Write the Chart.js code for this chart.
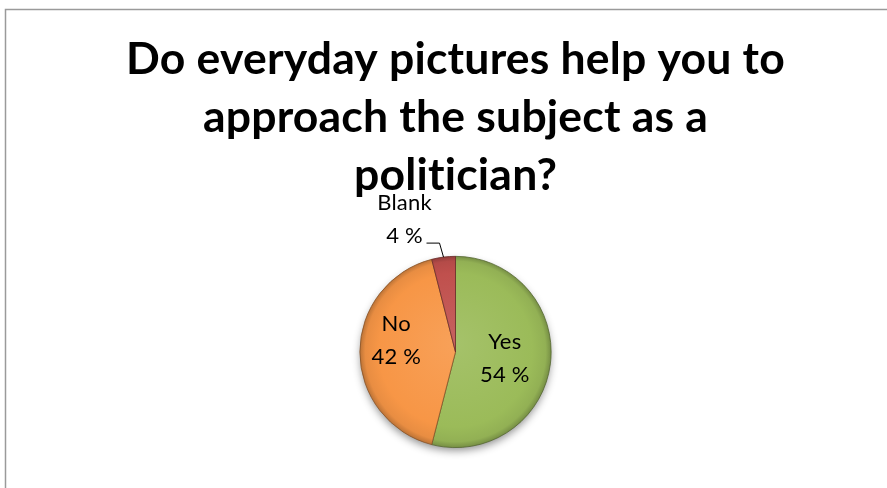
<!DOCTYPE html>
<html>
<head>
<meta charset="utf-8">
<script src="https://cdn.jsdelivr.net/npm/chart.js@4/dist/chart.umd.min.js"></script>
<style>
    html, body { margin: 0; padding: 0; background: #ffffff; }
    #wrap { position: relative; width: 887px; height: 488px; }
</style>
</head>
<body>
<div id="wrap"><canvas id="pieChart" width="887" height="488"></canvas></div>
<script>
const titleLines = ["Do everyday pictures help you to", "approach the subject as a", "politician?"];
const categories = ["Yes", "No", "Blank"];
const shares = [54, 42, 4];
const sliceColors = ["#9BBB59", "#F79646", "#C0504D"];
// where each data label sits: inside the slice, or outside with a leader line
const labelPlacement = ["inside", "inside", "outside"];
const labelRadius = [0.52, 0.62, 0];
const labelShiftY = [0, -12, -3];

const labelFont = "Lato, 'Open Sans', sans-serif";

const shade = (hex, amt) => {
    const n = parseInt(hex.slice(1), 16);
    const mix = (c) => Math.round(amt >= 0 ? c + (255 - c) * amt : c * (1 + amt));
    const r = mix((n >> 16) & 255), g = mix((n >> 8) & 255), b = mix(n & 255);
    return `rgb(${r}, ${g}, ${b})`;
};

// soft bevel look: lighter body, darker rim
const sliceFill = (ctx) => {
    const chart = ctx.chart;
    const area = chart.chartArea;
    const base = sliceColors[ctx.dataIndex];
    if (!area) return base;
    const cx = (area.left + area.right) / 2;
    const cy = (area.top + area.bottom) / 2;
    const r = Math.min(area.right - area.left, area.bottom - area.top) / 2;
    const g = chart.ctx.createRadialGradient(cx, cy - r * 0.1, 0, cx, cy, r);
    g.addColorStop(0, shade(base, 0.1));
    g.addColorStop(0.8, base);
    g.addColorStop(0.94, shade(base, -0.06));
    g.addColorStop(1, shade(base, -0.25));
    return g;
};

// outer frame; the small letter spacing also stops Lato's "ti" ligature
const frame = {
    id: "frame",
    beforeDraw(chart) {
        const c = chart.ctx;
        c.letterSpacing = "0.2px";
        c.save();
        c.strokeStyle = "#9a9a9a";
        c.lineWidth = 1.5;
        c.strokeRect(5.5, 9.5, 1000, 1000);
        c.restore();
    },
};

const pieShadow = {
    id: "pieShadow",
    beforeDatasetsDraw(chart) {
        const arc = chart.getDatasetMeta(0).data[0];
        if (!arc) return;
        const { x, y, outerRadius } = arc.getProps(["x", "y", "outerRadius"], true);
        const c = chart.ctx;
        c.save();
        c.shadowColor = "rgba(0, 0, 0, 0.45)";
        c.shadowBlur = 9;
        c.shadowOffsetY = 4;
        c.fillStyle = "#ffffff";
        c.beginPath();
        c.arc(x, y, outerRadius - 1, 0, Math.PI * 2);
        c.fill();
        c.restore();
    },
};

const sliceLabels = {
    id: "sliceLabels",
    afterDatasetsDraw(chart) {
        const c = chart.ctx;
        const meta = chart.getDatasetMeta(0);
        c.save();
        c.font = `22px ${labelFont}`;
        c.fillStyle = "#000000";
        c.textAlign = "center";
        c.textBaseline = "middle";
        meta.data.forEach((arc, i) => {
            const { x, y, startAngle, endAngle, outerRadius } =
                arc.getProps(["x", "y", "startAngle", "endAngle", "outerRadius"], true);
            const mid = (startAngle + endAngle) / 2;
            const lines = [categories[i], `${shares[i]} %`];
            if (labelPlacement[i] === "inside") {
                const lx = x + Math.cos(mid) * outerRadius * labelRadius[i];
                const ly = y + Math.sin(mid) * outerRadius * labelRadius[i] + labelShiftY[i];
                c.fillText(lines[0], lx, ly - 16);
                c.fillText(lines[1], lx, ly + 17);
            } else {
                const px = x + Math.cos(mid) * outerRadius;
                const py = y + Math.sin(mid) * outerRadius;
                const ex = px - 4, ey = py - 14;
                const hx = ex - 13;
                c.strokeStyle = "#000000";
                c.lineWidth = 1;
                c.beginPath();
                c.moveTo(px, py);
                c.lineTo(ex, ey);
                c.lineTo(hx, ey);
                c.stroke();
                const tx = hx - 22;
                c.fillText(lines[1], tx, ey - 4 + labelShiftY[i]);
                c.fillText(lines[0], tx, ey - 37 + labelShiftY[i]);
            }
        });
        c.restore();
    },
};

new Chart(document.getElementById("pieChart"), {
    type: "pie",
    data: {
        labels: categories,
        datasets: [{
            data: shares,
            backgroundColor: sliceFill,
            borderColor: sliceColors.map((col) => shade(col, -0.45)),
            borderWidth: 0.8,
        }],
    },
    options: {
        responsive: false,
        animation: false,
        events: [],
        layout: {
            padding: { top: 0, bottom: 40, left: 24, right: 0 },
        },
        plugins: {
            legend: { display: false },
            tooltip: { enabled: false },
            title: {
                display: true,
                text: titleLines,
                color: "#000000",
                font: { family: "Lato, 'Open Sans', sans-serif", size: 44.5, weight: "bold", lineHeight: 1.303 },
                padding: { top: 31, bottom: 51 },
            },
        },
    },
    plugins: [frame, pieShadow, sliceLabels],
});
</script>
</body>
</html>
